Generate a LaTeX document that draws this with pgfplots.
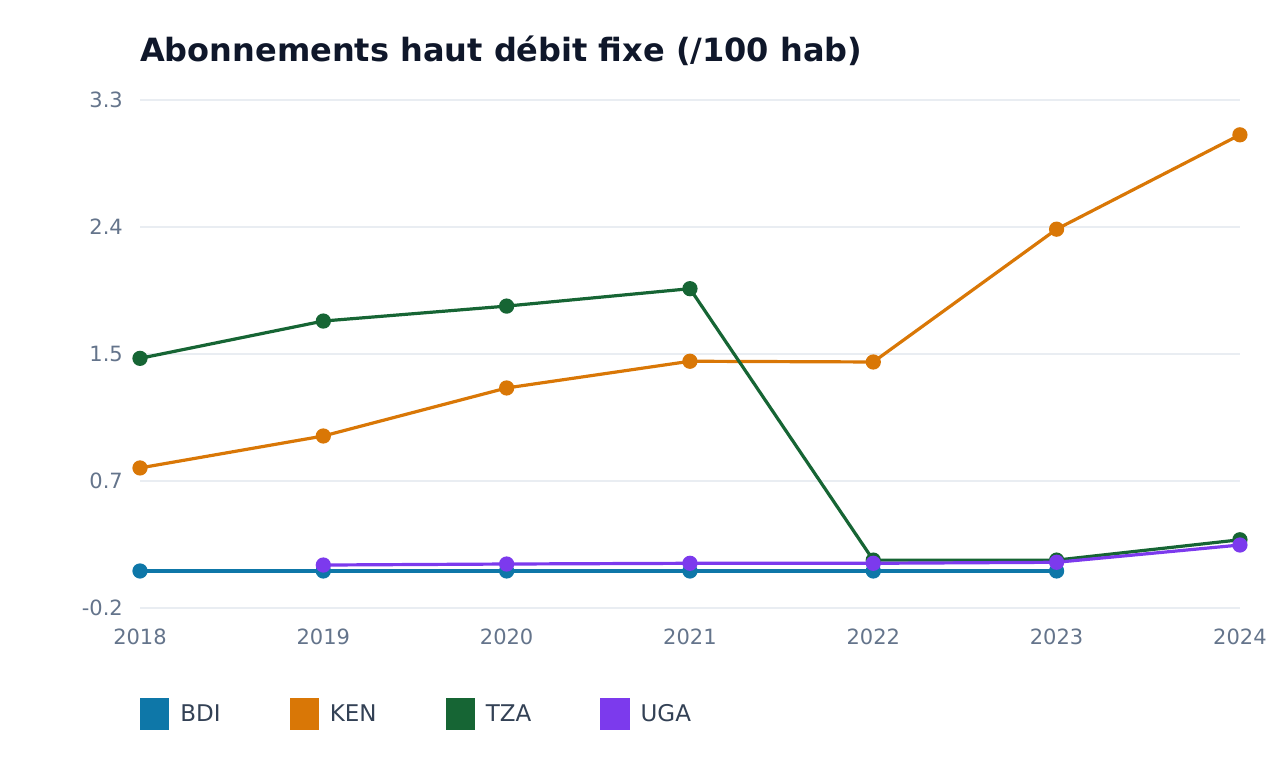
\documentclass[border=0pt]{standalone}
\usepackage{pgfplots}
\pgfplotsset{compat=1.18}
\usepackage{fontspec}
\setmainfont{DejaVu Sans}

\definecolor{cBDI}{HTML}{0E77A8}
\definecolor{cKEN}{HTML}{D97706}
\definecolor{cTZA}{HTML}{166534}
\definecolor{cUGA}{HTML}{7C3AED}
\definecolor{titlec}{HTML}{0F172A}
\definecolor{tickc}{HTML}{64748B}
\definecolor{legc}{HTML}{334155}
\definecolor{gridc}{HTML}{E9EDF2}

\begin{document}
\begin{tikzpicture}[x=1pt,y=1pt]
\path[use as bounding box] (0,0) rectangle (1280,760);
\node[anchor=base west, inner sep=0pt, text=titlec, font=\fontsize{32}{37}\selectfont\bfseries]
  at (140,698) {Abonnements haut débit fixe (/100 hab)};
\begin{axis}[
  at={(140pt,152pt)}, anchor=south west,
  scale only axis, width=1100pt, height=508pt,
  xmin=2018, xmax=2024, ymin=-0.2, ymax=3.3,
  clip=false,
  axis line style={draw=none},
  major tick length=0pt,
  xtick={2018,2019,2020,2021,2022,2023,2024},
  xticklabels={2018,2019,2020,2021,2022,2023,2024},
  ytick={-0.2,0.675,1.55,2.425,3.3},
  yticklabels={-0.2,0.7,1.5,2.4,3.3},
  ymajorgrids,
  grid style={draw=gridc, line width=1.5pt},
  tick label style={text=tickc, font=\fontsize{21}{25}\selectfont, inner sep=0pt},
  xticklabel style={anchor=north, yshift=-21pt},
  yticklabel style={anchor=east, xshift=-17pt},
  every axis plot/.append style={line width=3.2pt, mark=*, mark size=6pt, mark options={solid}},
  legend columns=4,
  legend style={at={(0,-0.2087)}, anchor=west, draw=none, fill=none, inner sep=0pt,
    nodes={inner sep=0pt, text=legc, font=\fontsize{23}{27}\selectfont},
    /tikz/every odd column/.append style={column sep=11pt},
    /tikz/every even column/.append style={column sep=69pt}},
  legend image code/.code={\fill[#1] (0pt,-14pt) rectangle (26pt,14pt);},
]
\addplot[color=cBDI] coordinates {(2018,0.055) (2019,0.055) (2020,0.055) (2021,0.055) (2022,0.055) (2023,0.055)};
\addlegendentry{BDI}
\addplot[color=cKEN] coordinates {(2018,0.765) (2019,0.985) (2020,1.316) (2021,1.500) (2022,1.495) (2023,2.410) (2024,3.060)};
\addlegendentry{KEN}
\addplot[color=cTZA] coordinates {(2018,1.520) (2019,1.777) (2020,1.880) (2021,2.000) (2022,0.130) (2023,0.130) (2024,0.270)};
\addlegendentry{TZA}
\addplot[color=cUGA] coordinates {(2019,0.096) (2020,0.103) (2021,0.108) (2022,0.108) (2023,0.115) (2024,0.234)};
\addlegendentry{UGA}
\end{axis}
\end{tikzpicture}
\end{document}
